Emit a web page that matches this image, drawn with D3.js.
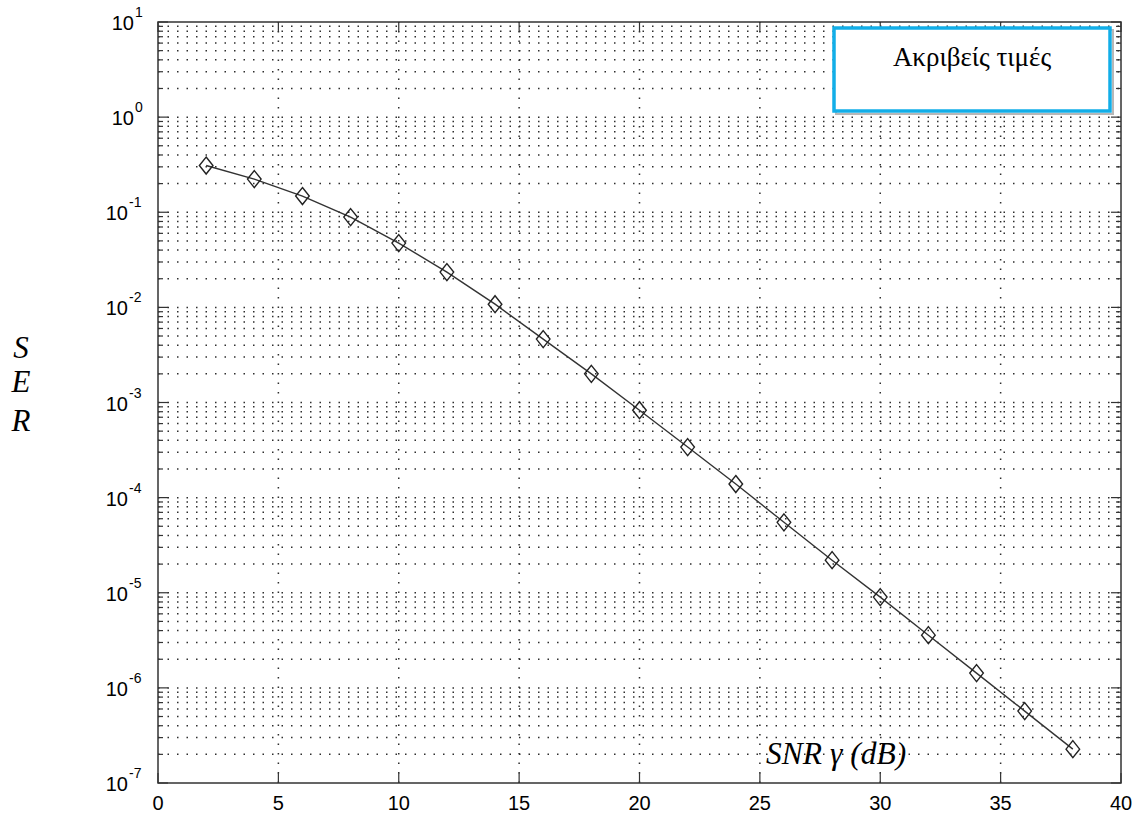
<!DOCTYPE html>
<html>
<head>
<meta charset="utf-8">
<script src="https://cdn.jsdelivr.net/npm/d3@7"></script>
<style>
  html, body { margin: 0; padding: 0; background: #fff; }
  svg { display: block; }
</style>
</head>
<body>
<svg id="chart" width="1140" height="816"></svg>
<script>
// SNR in dB and the exact symbol error rate at each point
const snrDb = [2, 4, 6, 8, 10, 12, 14, 16, 18, 20, 22, 24, 26, 28, 30, 32, 34, 36, 38];
const serExact = [0.31, 0.223, 0.148, 0.089, 0.0474, 0.0235, 0.0108, 0.00464, 0.0020,
  8.3e-4, 3.4e-4, 1.39e-4, 5.5e-5, 2.2e-5, 9.0e-6, 3.58e-6, 1.43e-6, 5.7e-7, 2.27e-7];
const xTicks = [0, 5, 10, 15, 20, 25, 30, 35, 40];
const yExponents = [1, 0, -1, -2, -3, -4, -5, -6, -7];
const legendLabel = "Ακριβείς τιμές";
const xTitle = "SNR γ (dB)";
const yTitle = ["S", "E", "R"];

const svg = d3.select("#chart");
const plotL = 158, plotR = 1121, plotT = 22, plotB = 783;

const x = d3.scaleLinear().domain([0, 40]).range([plotL, plotR]);
const y = d3.scaleLog().domain([1e-7, 10]).range([plotB, plotT]);

const grid = svg.append("g")
  .attr("stroke", "#2e2e2e")
  .attr("stroke-width", 1.5)
  .attr("stroke-dasharray", "1.5,8");

// horizontal dotted grid at every decade and sub-decade step
const yGridVals = [];
for (let e = -7; e < 1; e++) {
  for (let m = 1; m <= 9; m++) yGridVals.push(m * Math.pow(10, e));
}
yGridVals.push(10);
grid.selectAll("line.h").data(yGridVals.filter(v => v > 1e-7 && v < 10))
  .join("line").attr("class", "h")
  .attr("x1", plotL).attr("x2", plotR)
  .attr("y1", d => y(d)).attr("y2", d => y(d));

// vertical dotted grid at the labelled x ticks
grid.selectAll("line.v").data(xTicks.filter(d => d > 0 && d < 40))
  .join("line").attr("class", "v")
  .attr("x1", d => x(d)).attr("x2", d => x(d))
  .attr("y1", plotB).attr("y2", plotT);

// axes drawn as an inward-ticked box
const axisColor = "#333";
const tickG = svg.append("g").attr("stroke", axisColor).attr("stroke-width", 1.2);
const majorVals = yExponents.map(e => Math.pow(10, e));
const minorVals = yGridVals.filter(v => !majorVals.some(m => Math.abs(Math.log10(v) - Math.log10(m)) < 1e-9));

[[plotL, 1], [plotR, -1]].forEach(([xp, dir]) => {
  tickG.selectAll(null).data(majorVals).join("line")
    .attr("x1", xp).attr("x2", xp + dir * 10)
    .attr("y1", d => y(d)).attr("y2", d => y(d));
  tickG.selectAll(null).data(minorVals).join("line")
    .attr("x1", xp).attr("x2", xp + dir * 5)
    .attr("y1", d => y(d)).attr("y2", d => y(d));
});
[[plotB, -1], [plotT, 1]].forEach(([yp, dir]) => {
  tickG.selectAll(null).data(xTicks).join("line")
    .attr("x1", d => x(d)).attr("x2", d => x(d))
    .attr("y1", yp).attr("y2", yp + dir * 10);
});

svg.append("rect")
  .attr("x", plotL).attr("y", plotT)
  .attr("width", plotR - plotL).attr("height", plotB - plotT)
  .attr("fill", "none").attr("stroke", axisColor).attr("stroke-width", 1.5);

// x tick labels
svg.append("g").selectAll("text").data(xTicks).join("text")
  .attr("x", d => x(d)).attr("y", 810)
  .attr("text-anchor", "middle")
  .attr("font-family", "Liberation Sans, Arial, sans-serif")
  .attr("font-size", 20).attr("fill", "#000")
  .text(d => d);

// y tick labels: 10 with superscript exponent
const yl = svg.append("g")
  .attr("font-family", "Liberation Sans, Arial, sans-serif")
  .attr("fill", "#000");
yExponents.forEach(e => {
  const yp = y(Math.pow(10, e));
  const end = e < 0 ? 128 : 134;
  yl.append("text").attr("x", end).attr("y", yp + 8)
    .attr("text-anchor", "end")
    .attr("font-size", 20).text("10");
  yl.append("text").attr("x", end + 1).attr("y", yp - 5)
    .attr("font-size", 14).text(e < 0 ? "-" + (-e) : e);
});

// data line and diamond markers
const line = d3.line().x((d, i) => x(snrDb[i])).y(d => y(d));
svg.append("path").datum(serExact)
  .attr("d", line)
  .attr("fill", "none").attr("stroke", "#333").attr("stroke-width", 1.4);

const diamond = "M0,-8.5L6.8,0L0,8.5L-6.8,0Z";
svg.append("g").selectAll("path").data(serExact).join("path")
  .attr("transform", (d, i) => `translate(${x(snrDb[i])},${y(d)})`)
  .attr("d", diamond)
  .attr("fill", "none").attr("stroke", "#222").attr("stroke-width", 1.4);

// legend box
svg.append("rect").attr("x", 836).attr("y", 30).attr("width", 277).attr("height", 84)
  .attr("fill", "none").attr("stroke", "#b8b8b8").attr("stroke-width", 2);
svg.append("rect").attr("x", 834).attr("y", 28).attr("width", 276).attr("height", 83)
  .attr("fill", "#fff").attr("stroke", "#12aee8").attr("stroke-width", 3.5);
svg.append("text").attr("x", 972).attr("y", 66)
  .attr("text-anchor", "middle")
  .attr("font-family", "Liberation Serif, Times New Roman, serif")
  .attr("font-size", 27).attr("fill", "#000")
  .text(legendLabel);

// axis titles
svg.append("text").attr("x", 766).attr("y", 764)
  .attr("font-family", "Liberation Serif, Times New Roman, serif")
  .attr("font-style", "italic").attr("font-size", 31.5).attr("fill", "#000")
  .text(xTitle);
const yTitleBaselines = [358, 392, 431];
svg.append("g").selectAll("text").data(yTitle).join("text")
  .attr("x", 21).attr("y", (d, i) => yTitleBaselines[i])
  .attr("text-anchor", "middle")
  .attr("font-family", "Liberation Serif, Times New Roman, serif")
  .attr("font-style", "italic").attr("font-size", 31).attr("fill", "#000")
  .text(d => d);
</script>
</body>
</html>
